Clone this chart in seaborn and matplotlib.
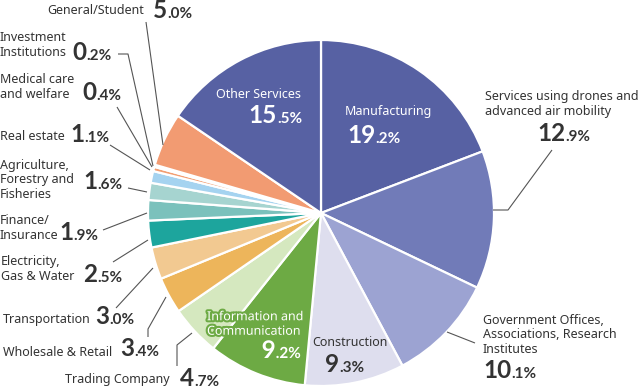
import matplotlib
matplotlib.use("Agg")
import matplotlib.pyplot as plt
import matplotlib.patheffects as pe
import seaborn as sns

sns.set_theme(style="white")
plt.rcParams['font.family'] = ['Noto Sans', 'DejaVu Sans']

# ---------------- data ----------------
categories = [
    "Manufacturing",
    "Services using drones and\nadvanced air mobility",
    "Government Offices,\nAssociations, Research\nInstitutes",
    "Construction",
    "Information and\nCommunication",
    "Trading Company",
    "Wholesale & Retail",
    "Transportation",
    "Electricity,\nGas & Water",
    "Finance/\nInsurance",
    "Agriculture,\nForestry and\nFisheries",
    "Real estate",
    "Medical care\nand welfare",
    "Investment\nInstitutions",
    "General/Student",
    "Other Services",
]
values = [19.2, 12.9, 10.1, 9.3, 9.2, 4.7, 3.4, 3.0, 2.5, 1.9, 1.6, 1.1, 0.4, 0.2, 5.0, 15.5]
colors = ["#5761A3", "#717BB8", "#9CA3D2", "#DEDEEE", "#6DAA44", "#D5E8BF",
          "#EDB55B", "#F2C991", "#1DA59D", "#7BC1BC", "#A6D4D0", "#A5D3F0",
          "#F29E72", "#F29E72", "#F29B72", "#5761A3"]

# ---------------- layout (pixel coords, origin top-left) ----------------
W, H = 640, 390
CX, CY, R = 321, 213, 173
DARK = "#333333"

layout = {
    "Manufacturing": dict(name=(345, 112, "left"), num=(347, 143, "left"), color="white"),
    "Services using drones and\nadvanced air mobility": dict(name=(485, 104, "left"), num=(537, 141, "left"), color=DARK,
        leader=[(552, 150), (508, 210), (493, 210)]),
    "Government Offices,\nAssociations, Research\nInstitutes": dict(name=(483, 335, "left"), num=(483, 378, "left"), color=DARK,
        leader=[(475, 343), (447, 332)]),
    "Construction": dict(name=(312, 343, "left"), num=(325, 372, "left"), color=DARK),
    "Information and\nCommunication": dict(name=(207, 324, "left"), num=(301, 358, "right"), color="white", stroke="#6DAA44"),
    "Trading Company": dict(name=(65, 380, "left"), num=(180, 386, "left"), color=DARK,
        leader=[(177, 366), (177, 345), (192, 333)]),
    "Wholesale & Retail": dict(name=(3, 352, "left"), num=(120, 356, "left"), color=DARK,
        leader=[(148, 337), (148, 329), (166, 297)]),
    "Transportation": dict(name=(3, 320, "left"), num=(95, 324, "left"), color=DARK,
        leader=[(116, 308), (153, 268)]),
    "Electricity,\nGas & Water": dict(name=(1, 269, "left"), num=(83, 282, "left"), color=DARK,
        leader=[(113, 262), (148, 240)]),
    "Finance/\nInsurance": dict(name=(0, 228, "left"), num=(59, 240, "left"), color=DARK,
        leader=[(103, 230), (147, 213)]),
    "Agriculture,\nForestry and\nFisheries": dict(name=(0, 180, "left"), num=(83, 189, "left"), color=DARK,
        leader=[(128, 188), (147, 192)]),
    "Real estate": dict(name=(0, 137, "left"), num=(70, 142, "left"), color=DARK,
        leader=[(110, 145), (150, 170)]),
    "Medical care\nand welfare": dict(name=(0, 87, "left"), num=(82, 100, "left"), color=DARK,
        leader=[(117, 107), (152, 167)]),
    "Investment\nInstitutions": dict(name=(0, 45, "left"), num=(72, 60, "left"), color=DARK,
        leader=[(118, 54), (128, 54), (153, 166)]),
    "General/Student": dict(name=(47, 11, "left"), num=(153, 18, "left"), color=DARK,
        leader=[(146, 22), (163, 145)]),
    "Other Services": dict(name=(258, 95, "center"), num=(302, 123, "right"), color="white"),
}

NAME_FS = 9.0
BIG_FS = 17.5
SMALL_FS = 11
NUM_FONT = ['Lato', 'DejaVu Sans']

fig = plt.figure(figsize=(W / 100, H / 100), dpi=100)
ax = fig.add_axes([0, 0, 1, 1])


def P(x, y):
    return x, H - y


ax.pie(values, colors=colors, startangle=90, counterclock=False,
       center=P(CX, CY), radius=R,
       wedgeprops=dict(edgecolor="white", linewidth=1.6))
ax.set_xlim(0, W)
ax.set_ylim(0, H)
ax.set_aspect("equal")
ax.axis("off")

renderer = fig.canvas.get_renderer()

for cat, val in zip(categories, values):
    lay = layout[cat]
    col = lay["color"]
    effects = None
    if "stroke" in lay:
        effects = [pe.withStroke(linewidth=3, foreground=lay["stroke"])]
    nx, ny, nha = lay["name"]
    ax.text(*P(nx, ny), cat, ha=nha, va="center", fontsize=NAME_FS, color=col,
            linespacing=1.15, multialignment="left", path_effects=effects)

    s = f"{val:.1f}"
    ip, dp = s.split(".")
    dp = "." + dp + "%"
    t1 = ax.text(0, 0, ip, fontsize=BIG_FS, fontweight="bold", color=col,
                 family=NUM_FONT, va="baseline", ha="left", path_effects=effects)
    t2 = ax.text(0, 0, dp, fontsize=SMALL_FS, fontweight="bold", color=col,
                 family=NUM_FONT, va="baseline", ha="left", path_effects=effects)
    w1 = t1.get_window_extent(renderer).width
    w2 = t2.get_window_extent(renderer).width
    x0, bl, ha = lay["num"]
    if ha == "right":
        x0 = x0 - (w1 + w2)
    elif ha == "center":
        x0 = x0 - (w1 + w2) / 2
    t1.set_position(P(x0, bl))
    t2.set_position(P(x0 + w1, bl))

    if "leader" in lay:
        xs = [p[0] for p in lay["leader"]]
        ys = [H - p[1] for p in lay["leader"]]
        ax.plot(xs, ys, color="#555555", linewidth=0.8, solid_capstyle="butt")

fig.savefig("out.png", dpi=100)
